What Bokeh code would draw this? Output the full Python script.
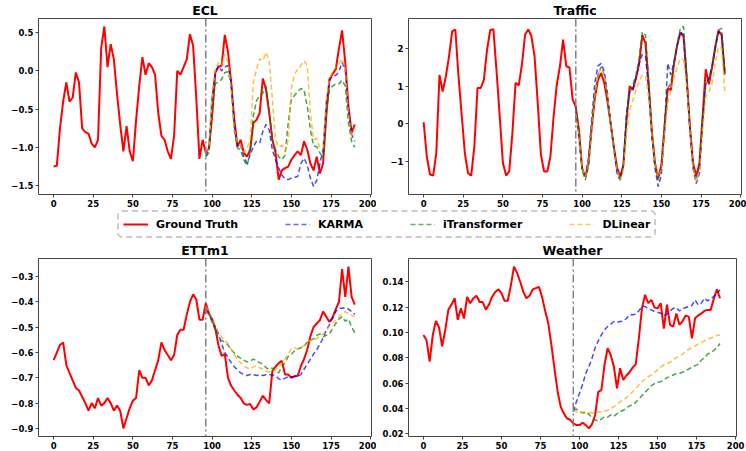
from bokeh.plotting import figure
from bokeh.layouts import column, row
from bokeh.models import Range1d, FixedTicker, Span, Legend, LegendItem
from bokeh.embed import file_html
from bokeh.resources import INLINE

FONT = "DejaVu Sans"

# ---------------- data ----------------
HISTORY_LEN = 96
SERIES_LEN = 192
T_ALL = list(range(0, 192, 2))      # ground-truth sample times
T_PRED = list(range(96, 192, 2))    # forecast sample times

X_TICKS = [0, 25, 50, 75, 100, 125, 150, 175, 200]
X_LABELS = ["0", "25", "50", "75", "100", "125", "150", "175", "200"]

MODELS = ["Ground Truth", "KARMA", "iTransformer", "DLinear"]

# ECL
ECL_GT = [-1.25, -1.24, -0.75, -0.40, -0.15, -0.40, -0.35, -0.02, -0.15, -0.75,
          -0.80, -0.82, -0.95, -1.00, -0.90, 0.30, 0.58, 0.05, 0.35, 0.15,
          -0.30, -0.70, -1.05, -0.72, -1.05, -1.18, -0.65, -0.20, 0.18, -0.05,
          0.10, 0.05, -0.05, -0.55, -0.85, -0.90, -1.05, -1.15, -0.85, 0.00,
          -0.05, 0.05, 0.15, 0.48, 0.33, -0.35, -1.15, -0.90,
          -1.07, -1.01, -0.59, -0.02, 0.05, 0.07, 0.47, 0.25, -0.15, -0.64,
          -0.99, -0.90, -1.07, -1.12, -1.03, -0.68, -0.64, -0.55, -0.10, -0.24,
          -0.55, -0.90, -1.07, -1.42, -1.30, -1.27, -1.25, -1.16, -1.10, -1.05,
          -1.10, -0.92, -1.03, -1.21, -1.30, -1.12, -1.34, -1.21, -0.59, -0.11,
          -0.04, 0.02, 0.29, 0.53, 0.11, -0.46, -0.81, -0.70]
ECL_KARMA = [-1.12, -1.03, -0.33, -0.02, 0.07, 0.00, 0.05, 0.07, -0.15, -0.72,
             -0.99, -0.97, -1.12, -1.21, -1.10, -0.99, -0.92, -0.94, -0.79, -0.70,
             -0.77, -1.03, -1.16, -1.27, -1.36, -1.41, -1.42, -1.40, -1.39, -1.38,
             -1.21, -1.14, -1.23, -1.40, -1.51, -1.43, -1.21, -1.03, -0.42, -0.13,
             -0.06, -0.06, -0.01, 0.11, 0.02, -0.50, -0.83, -0.92]
ECL_ITRANS = [-1.12, -1.07, -0.50, -0.17, -0.14, -0.11, -0.02, -0.01, -0.17, -0.79,
              -1.01, -1.03, -1.16, -1.24, -1.07, -0.59, -0.39, -0.32, -0.29, -0.20,
              -0.50, -0.90, -1.03, -1.12, -1.16, -1.10, -0.68, -0.37, -0.32, -0.27,
              -0.23, -0.25, -0.46, -0.77, -0.98, -0.99, -1.07, -1.14, -0.55, -0.24,
              -0.20, -0.17, -0.17, -0.12, -0.20, -0.68, -0.92, -1.00]
ECL_DLIN = [-1.07, -1.01, -0.28, 0.02, 0.11, 0.08, 0.22, 0.11, -0.24, -0.77,
            -0.94, -0.97, -1.07, -1.01, -0.90, -0.15, 0.02, 0.16, 0.13, 0.24,
            0.13, -0.37, -0.90, -0.99, -0.97, -1.05, -0.90, -0.22, -0.04, 0.02,
            0.07, 0.13, 0.07, -0.55, -0.90, -0.88, -1.01, -1.01, -0.37, -0.11,
            -0.01, 0.05, 0.09, 0.16, 0.02, -0.55, -0.86, -0.83]
ECL_YTICKS = [-1.5, -1.0, -0.5, 0.0, 0.5]
ECL_YLABELS = ["\u22121.5", "\u22121.0", "\u22120.5", "0.0", "0.5"]

# Traffic
TRAFFIC_GT = [0.04, -0.87, -1.35, -1.38, -0.78, 1.30, 0.86, 1.26, 1.79, 2.46,
              2.51, 1.26, 0.24, -0.78, -1.31, -1.38, -0.60, 0.95, 0.95, 1.17,
              1.97, 2.49, 2.52, 1.40, 0.20, -1.04, -1.38, -1.27, -0.25, 1.09,
              1.02, 1.57, 2.37, 2.51, 2.33, 1.79, 0.55, -0.82, -1.27, -1.27,
              -0.87, 0.20, 1.04, 1.53, 2.24, 1.53, 1.50, 0.65,
              0.45, -0.17, -1.19, -1.41, -1.05, -0.12, 0.68, 1.17, 1.35, 1.08,
              0.59, 0.01, -0.61, -1.16, -1.41, -1.10, 0.10, 1.00, 0.90, 1.21,
              1.61, 2.36, 2.14, 1.03, -0.21, -1.05, -1.45, -1.10, -0.08, 0.94,
              0.90, 1.61, 2.10, 2.43, 2.32, 1.21, -0.08, -1.05, -1.39, -1.05,
              0.19, 1.45, 1.05, 1.52, 2.05, 2.48, 2.36, 1.34]
TRAFFIC_KARMA = [0.37, -0.39, -1.19, -1.37, -0.92, 0.10, 1.08, 1.54, 1.61, 1.39,
                 0.81, 0.01, -0.65, -1.32, -1.50, -1.12, 0.28, 0.83, 0.94, 1.25,
                 1.61, 1.85, 1.80, 0.90, -0.34, -1.19, -1.67, -1.36, -0.17, 1.61,
                 1.30, 1.65, 2.10, 2.45, 2.36, 1.12, -0.17, -1.19, -1.59, -1.32,
                 0.01, 1.08, 1.21, 1.52, 2.01, 2.45, 2.41, 1.34]
TRAFFIC_ITRANS = [0.41, -0.25, -1.23, -1.50, -1.14, -0.08, 0.77, 1.30, 1.52, 1.30,
                  0.72, 0.01, -0.65, -1.23, -1.50, -1.14, 0.10, 0.81, 1.03, 1.30,
                  1.74, 2.45, 2.36, 1.17, -0.25, -1.14, -1.50, -1.14, 0.01, 0.94,
                  1.08, 1.61, 2.14, 2.54, 2.59, 1.30, -0.08, -1.10, -1.45, -1.14,
                  0.10, 1.03, 1.21, 1.48, 2.01, 2.50, 2.54, 1.30]
TRAFFIC_DLIN = [0.28, -0.34, -1.19, -1.41, -1.05, -0.08, 0.72, 1.34, 1.48, 1.30,
                0.72, 0.01, -0.70, -1.23, -1.50, -1.23, -0.25, 0.37, 0.63, 0.90,
                1.12, 1.30, 1.25, 0.72, -0.25, -1.05, -1.41, -1.23, -0.25, 0.54,
                0.90, 1.25, 1.52, 1.74, 1.70, 0.99, -0.17, -1.14, -1.54, -1.32,
                -0.17, 0.72, 0.85, 1.08, 1.61, 2.05, 2.01, 0.85]
TRAFFIC_YTICKS = [-1, 0, 1, 2]
TRAFFIC_YLABELS = ["\u22121", "0", "1", "2"]

# ETTm1
ETTM1_GT = [-0.63, -0.60, -0.57, -0.56, -0.65, -0.68, -0.71, -0.74, -0.75, -0.775,
            -0.80, -0.83, -0.80, -0.82, -0.78, -0.81, -0.80, -0.78, -0.80, -0.83,
            -0.81, -0.83, -0.90, -0.86, -0.82, -0.79, -0.78, -0.67, -0.70, -0.70,
            -0.73, -0.71, -0.67, -0.63, -0.56, -0.59, -0.61, -0.63, -0.61, -0.53,
            -0.51, -0.51, -0.45, -0.40, -0.37, -0.39, -0.47, -0.47,
            -0.405, -0.445, -0.468, -0.505, -0.572, -0.613, -0.606, -0.70, -0.731, -0.750,
            -0.767, -0.780, -0.801, -0.807, -0.803, -0.825, -0.817, -0.794, -0.771, -0.787,
            -0.801, -0.673, -0.656, -0.642, -0.633, -0.687, -0.687, -0.70, -0.693, -0.693,
            -0.653, -0.626, -0.589, -0.535, -0.499, -0.485, -0.472, -0.438, -0.458, -0.479,
            -0.462, -0.428, -0.40, -0.27, -0.38, -0.26, -0.38, -0.41]
ETTM1_KARMA = [-0.425, -0.445, -0.472, -0.499, -0.526, -0.566, -0.599, -0.619, -0.640, -0.656,
               -0.669, -0.680, -0.687, -0.691, -0.687, -0.687, -0.691, -0.688, -0.691, -0.688,
               -0.687, -0.689, -0.691, -0.704, -0.709, -0.701, -0.696, -0.696, -0.696, -0.693,
               -0.687, -0.666, -0.646, -0.626, -0.606, -0.589, -0.566, -0.543, -0.512, -0.490,
               -0.462, -0.438, -0.425, -0.425, -0.422, -0.428, -0.438, -0.449]
ETTM1_ITRANS = [-0.438, -0.449, -0.481, -0.512, -0.546, -0.552, -0.559, -0.570, -0.589, -0.602,
                -0.615, -0.623, -0.630, -0.637, -0.634, -0.626, -0.633, -0.640, -0.646, -0.660,
                -0.666, -0.661, -0.673, -0.680, -0.656, -0.640, -0.615, -0.606, -0.594, -0.586,
                -0.581, -0.575, -0.559, -0.550, -0.546, -0.532, -0.526, -0.538, -0.532, -0.526,
                -0.505, -0.485, -0.468, -0.458, -0.476, -0.468, -0.499, -0.521]
ETTM1_DLIN = [-0.418, -0.436, -0.465, -0.492, -0.522, -0.539, -0.550, -0.566, -0.586, -0.610,
              -0.626, -0.640, -0.653, -0.660, -0.666, -0.656, -0.653, -0.660, -0.666, -0.673,
              -0.677, -0.675, -0.666, -0.656, -0.642, -0.624, -0.606, -0.586, -0.581, -0.586,
              -0.579, -0.572, -0.559, -0.552, -0.546, -0.546, -0.535, -0.527, -0.512, -0.495,
              -0.485, -0.472, -0.458, -0.445, -0.438, -0.445, -0.452, -0.458]
ETTM1_YTICKS = [-0.9, -0.8, -0.7, -0.6, -0.5, -0.4, -0.3]
ETTM1_YLABELS = ["\u22120.9", "\u22120.8", "\u22120.7", "\u22120.6", "\u22120.5", "\u22120.4", "\u22120.3"]

# Weather
WEATHER_GT = [0.098, 0.094, 0.077, 0.098, 0.109, 0.104, 0.089, 0.102, 0.118, 0.122,
              0.127, 0.110, 0.119, 0.111, 0.128, 0.123, 0.127, 0.129, 0.124, 0.124,
              0.118, 0.122, 0.128, 0.132, 0.134, 0.131, 0.125, 0.125, 0.137, 0.152,
              0.147, 0.140, 0.132, 0.127, 0.129, 0.134, 0.135, 0.136, 0.128, 0.117,
              0.107, 0.090, 0.071, 0.053, 0.041, 0.036, 0.032, 0.031,
              0.0282, 0.0268, 0.0268, 0.0287, 0.0268, 0.0242, 0.0276, 0.0348, 0.053, 0.0545,
              0.0743, 0.0875, 0.0822, 0.073, 0.0558, 0.0717, 0.0625, 0.066, 0.0685, 0.0722,
              0.0748, 0.0954, 0.119, 0.1297, 0.1231, 0.1257, 0.1197, 0.119, 0.1231, 0.103,
              0.122, 0.106, 0.1046, 0.115, 0.106, 0.109, 0.1133, 0.1125, 0.0954, 0.1112,
              0.1133, 0.115, 0.117, 0.1178, 0.1178, 0.1265, 0.134, 0.127]
WEATHER_KARMA = [0.0374, 0.0453, 0.0519, 0.059, 0.0677, 0.073, 0.0796, 0.088, 0.0933, 0.098,
                 0.102, 0.1046, 0.1065, 0.1086, 0.108, 0.1086, 0.109, 0.111, 0.114, 0.1139,
                 0.1144, 0.117, 0.1205, 0.1205, 0.1186, 0.1178, 0.1165, 0.116, 0.1152, 0.1133,
                 0.1144, 0.117, 0.119, 0.1197, 0.117, 0.1186, 0.1197, 0.1205, 0.1213, 0.1257,
                 0.1218, 0.1231, 0.127, 0.1249, 0.1265, 0.1284, 0.131, 0.1336]
WEATHER_ITRANS = [0.0387, 0.0395, 0.0374, 0.0366, 0.0374, 0.0353, 0.0326, 0.0308, 0.0300, 0.0316,
                  0.0334, 0.0332, 0.0348, 0.0337, 0.0358, 0.0374, 0.0385, 0.0400, 0.0421, 0.0427,
                  0.0448, 0.0474, 0.0500, 0.0527, 0.0553, 0.0580, 0.0595, 0.0606, 0.0611, 0.0624,
                  0.0643, 0.0651, 0.0664, 0.0675, 0.0677, 0.0685, 0.0698, 0.0711, 0.0725, 0.0738,
                  0.0748, 0.0780, 0.0801, 0.0828, 0.0843, 0.0857, 0.0880, 0.0912]
WEATHER_DLIN = [0.0387, 0.0374, 0.0369, 0.0363, 0.0361, 0.0366, 0.0363, 0.0369, 0.0374, 0.0369,
                0.0379, 0.0385, 0.0395, 0.0414, 0.0432, 0.0453, 0.0466, 0.0485, 0.0506, 0.0532,
                0.0559, 0.0585, 0.0611, 0.0632, 0.0651, 0.0664, 0.0685, 0.0704, 0.0727, 0.0743,
                0.0754, 0.0764, 0.0783, 0.0801, 0.0814, 0.0828, 0.0849, 0.0867, 0.0880, 0.0893,
                0.0907, 0.0920, 0.0933, 0.0946, 0.0954, 0.0965, 0.0975, 0.0980]
WEATHER_YTICKS = [0.02, 0.04, 0.06, 0.08, 0.10, 0.12, 0.14]
WEATHER_YLABELS = ["0.02", "0.04", "0.06", "0.08", "0.10", "0.12", "0.14"]

# ---------------- style ----------------
COLORS = ["red", "blue", "green", "orange"]
PRED_ALPHA = 0.72
PRED_DASH = "5 3"
FRAME = "#444444"

TOP_H = 209
BOT_H = 211
LEG_H = 31
LEFT_W = 376
RIGHT_W = 370

X_PAD = 0.05 * (SERIES_LEN - 1)


def style_axis(ax):
    ax.axis_line_color = None
    ax.major_tick_in = 0
    ax.major_tick_out = 3
    ax.minor_tick_in = 0
    ax.minor_tick_out = 0
    ax.major_tick_line_color = FRAME
    ax.major_tick_line_width = 1
    ax.major_label_text_font = FONT
    ax.major_label_text_font_style = "bold"
    ax.major_label_text_font_size = "8.5px"
    ax.major_label_text_color = "black"
    ax.major_label_standoff = 2


def make_panel(name, gt, karma, itrans, dlin, yticks, ylabels, width, height,
               left, right, top):
    allv = gt + karma + itrans + dlin
    lo, hi = min(allv), max(allv)
    pad = 0.05 * (hi - lo)
    p = figure(width=width, height=height, output_backend="svg", toolbar_location=None,
               x_range=Range1d(-X_PAD, SERIES_LEN - 1 + X_PAD),
               y_range=Range1d(lo - pad, hi + pad),
               min_border_left=left, min_border_right=right,
               min_border_top=top, min_border_bottom=15, title=name)
    p.title.text_font = FONT
    p.title.text_font_style = "bold"
    p.title.text_font_size = "12.5px"
    p.title.text_color = "black"
    p.title.align = "center"
    p.title.standoff = 1
    p.title.offset = 0
    p.grid.visible = False
    p.outline_line_color = FRAME
    p.outline_line_width = 1
    p.background_fill_color = "white"
    p.border_fill_color = "white"
    style_axis(p.xaxis[0])
    style_axis(p.yaxis[0])
    p.xaxis[0].ticker = FixedTicker(ticks=X_TICKS)
    p.xaxis[0].major_label_overrides = dict(zip(X_TICKS, X_LABELS))
    p.yaxis[0].ticker = FixedTicker(ticks=yticks)
    p.yaxis[0].major_label_overrides = dict(zip(yticks, ylabels))

    p.line(T_ALL, gt, line_color=COLORS[0], line_width=2)
    for series, col in zip((karma, itrans, dlin), COLORS[1:]):
        p.line(T_PRED, series, line_color=col, line_width=1.5, line_alpha=PRED_ALPHA,
               line_dash=PRED_DASH)
    p.add_layout(Span(location=HISTORY_LEN, dimension="height", line_color="gray",
                      line_width=1.5, line_dash="8 3 2 3"))
    return p


p_ecl = make_panel("ECL", ECL_GT, ECL_KARMA, ECL_ITRANS, ECL_DLIN,
                   ECL_YTICKS, ECL_YLABELS, LEFT_W, TOP_H, 38, 5, 17)
p_tra = make_panel("Traffic", TRAFFIC_GT, TRAFFIC_KARMA, TRAFFIC_ITRANS, TRAFFIC_DLIN,
                   TRAFFIC_YTICKS, TRAFFIC_YLABELS, RIGHT_W, TOP_H, 32, 5, 17)
p_ett = make_panel("ETTm1", ETTM1_GT, ETTM1_KARMA, ETTM1_ITRANS, ETTM1_DLIN,
                   ETTM1_YTICKS, ETTM1_YLABELS, LEFT_W, BOT_H, 38, 5, 18)
p_wea = make_panel("Weather", WEATHER_GT, WEATHER_KARMA, WEATHER_ITRANS, WEATHER_DLIN,
                   WEATHER_YTICKS, WEATHER_YLABELS, RIGHT_W, BOT_H, 32, 10, 18)

# ---------------- legend strip ----------------
leg = figure(width=LEFT_W + RIGHT_W, height=LEG_H, output_backend="svg", toolbar_location=None,
             x_axis_type=None, y_axis_type=None, min_border=0,
             x_range=Range1d(0, 1), y_range=Range1d(0, 1))
leg.outline_line_color = None
NAN = float("nan")
renderers = []
for i, col in enumerate(COLORS):
    if i == 0:
        r = leg.line([NAN], [NAN], line_color=col, line_width=2)
    else:
        r = leg.line([NAN], [NAN], line_color=col, line_width=1.5, line_alpha=0.6,
                     line_dash=PRED_DASH)
    renderers.append(r)
legend = Legend(items=[LegendItem(label=m, renderers=[r]) for m, r in zip(MODELS, renderers)],
                orientation="horizontal", location=(117, 2))
legend.label_text_font = FONT
legend.label_text_font_style = "bold"
legend.label_text_font_size = "11px"
legend.label_text_color = "black"
legend.glyph_width = 25
legend.glyph_height = 16
legend.label_height = 16
legend.label_standoff = 8
legend.spacing = 47
legend.padding = 4
legend.margin = 0
legend.border_line_color = "#999999"
legend.border_line_width = 2
legend.border_line_dash = "6 3"
legend.background_fill_color = "white"
legend.background_fill_alpha = 1.0
try:
    legend.border_radius = 5
except Exception:
    pass
leg.add_layout(legend)

layout = column(row(p_ecl, p_tra), leg, row(p_ett, p_wea))
open("out.html", "w").write(file_html(layout, INLINE))
